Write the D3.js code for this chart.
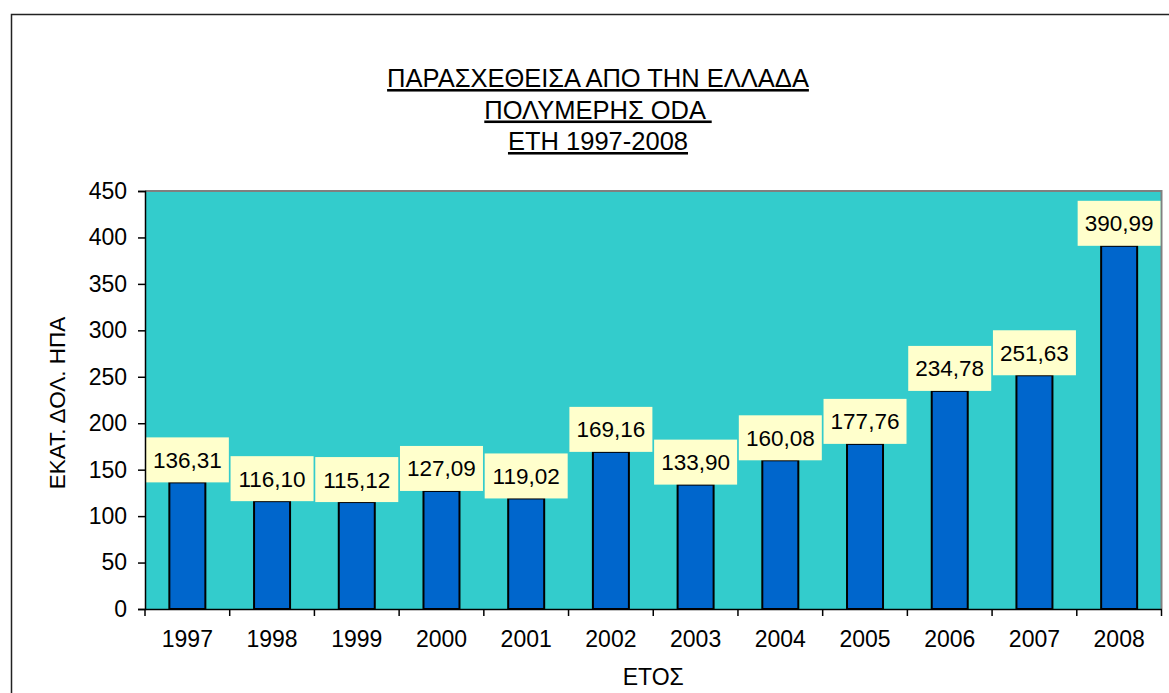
<!DOCTYPE html>
<html><head><meta charset="utf-8">
<script src="https://cdn.jsdelivr.net/npm/d3@7"></script>
<style>
html,body{margin:0;padding:0;background:#fff;}
svg text{font-family:"Liberation Sans",Arial,sans-serif;fill:#000;}
</style></head>
<body>
<svg id="chart" width="1169" height="693"></svg>
<script>
const years = ["1997","1998","1999","2000","2001","2002","2003","2004","2005","2006","2007","2008"];
const values = [136.31,116.10,115.12,127.09,119.02,169.16,133.90,160.08,177.76,234.78,251.63,390.99];
const yTicks = [0,50,100,150,200,250,300,350,400,450];
const titleLines = ["ΠΑΡΑΣΧΕΘΕΙΣΑ ΑΠΟ ΤΗΝ ΕΛΛΑΔΑ","ΠΟΛΥΜΕΡΗΣ ODA ","ΕΤΗ 1997-2008"];
const yTitle = "ΕΚΑΤ. ΔΟΛ. ΗΠΑ";
const xTitle = "ΕΤΟΣ";

const FONT = "Liberation Sans, Arial, sans-serif";
const svg = d3.select("#chart");
const L = 145, R = 1161.5, T = 191, B = 609;

// outer frame
svg.append("path").attr("d","M11.5,693 V14.5 H1169").attr("fill","none").attr("stroke","#222").attr("stroke-width",1.5);

const x = d3.scaleBand().domain(years).range([L,R]).paddingInner(0).paddingOuter(0);
const y = d3.scaleLinear().domain([0,450]).range([B,T]);

// plot area
svg.append("rect").attr("x",L).attr("y",T).attr("width",R-L).attr("height",B-T).attr("fill","#33CCCC");
svg.append("path").attr("d",`M${L},${T} H${R} V${B}`).attr("fill","none").attr("stroke","#808080").attr("stroke-width",2);

// bars
const bw = 36;
svg.append("g").selectAll("rect").data(values).join("rect")
  .attr("x",(d,i)=>x(years[i])+x.bandwidth()/2-bw/2)
  .attr("y",d=>y(d))
  .attr("width",bw)
  .attr("height",d=>B-y(d))
  .attr("fill","#0066CC").attr("stroke","#000").attr("stroke-width",2);

// labels
const lab = svg.append("g");
values.forEach((d,i)=>{
  const cx = x(years[i])+x.bandwidth()/2;
  const bx = Math.max(L, cx-41.5), ex = Math.min(R-1, cx+41.5);
  const top = y(d)-45;
  lab.append("rect").attr("x",bx).attr("y",top).attr("width",ex-bx).attr("height",45).attr("fill","#FFFFCC");
  lab.append("text").attr("x",(bx+ex)/2).attr("y",top+30.5).attr("text-anchor","middle")
    .attr("font-size",22.5).text(d.toFixed(2).replace(".",","));
});

// y axis
const ya = svg.append("g").attr("transform",`translate(${L},0)`)
  .call(d3.axisLeft(y).tickValues(yTicks).tickSize(7).tickPadding(11));
ya.select(".domain").attr("stroke","#000").attr("stroke-width",1.5);
ya.selectAll(".tick line").attr("stroke","#000").attr("stroke-width",1.5);
ya.selectAll("text").attr("font-size",23).attr("font-family",FONT).attr("fill","#000");

// x axis
const xa = svg.append("g").attr("transform",`translate(0,${B})`)
  .call(d3.axisBottom(x).tickSize(0).tickPadding(22));
xa.select(".domain").attr("stroke","#000").attr("stroke-width",1.5);
xa.selectAll("text").attr("font-size",23).attr("font-family",FONT).attr("fill","#000");
const edges = years.map(v=>x(v)).concat([R]);
svg.append("g").selectAll("line").data(edges).join("line")
  .attr("x1",d=>d).attr("x2",d=>d).attr("y1",B).attr("y2",B+7)
  .attr("stroke","#000").attr("stroke-width",1.5);

// title
const tg = svg.append("g");
titleLines.forEach((t,i)=>{
  tg.append("text").attr("x",598).attr("y",87+i*31.5).attr("text-anchor","middle")
    .attr("font-size",25.5).attr("text-decoration","underline").attr("xml:space","preserve").text(t);
});

// axis titles
svg.append("text").attr("transform","translate(65,403) rotate(-90)").attr("text-anchor","middle")
  .attr("font-size",22.5).text(yTitle);
svg.append("text").attr("x",(L+R)/2).attr("y",685).attr("text-anchor","middle")
  .attr("font-size",23).text(xTitle);
</script>
</body></html>
